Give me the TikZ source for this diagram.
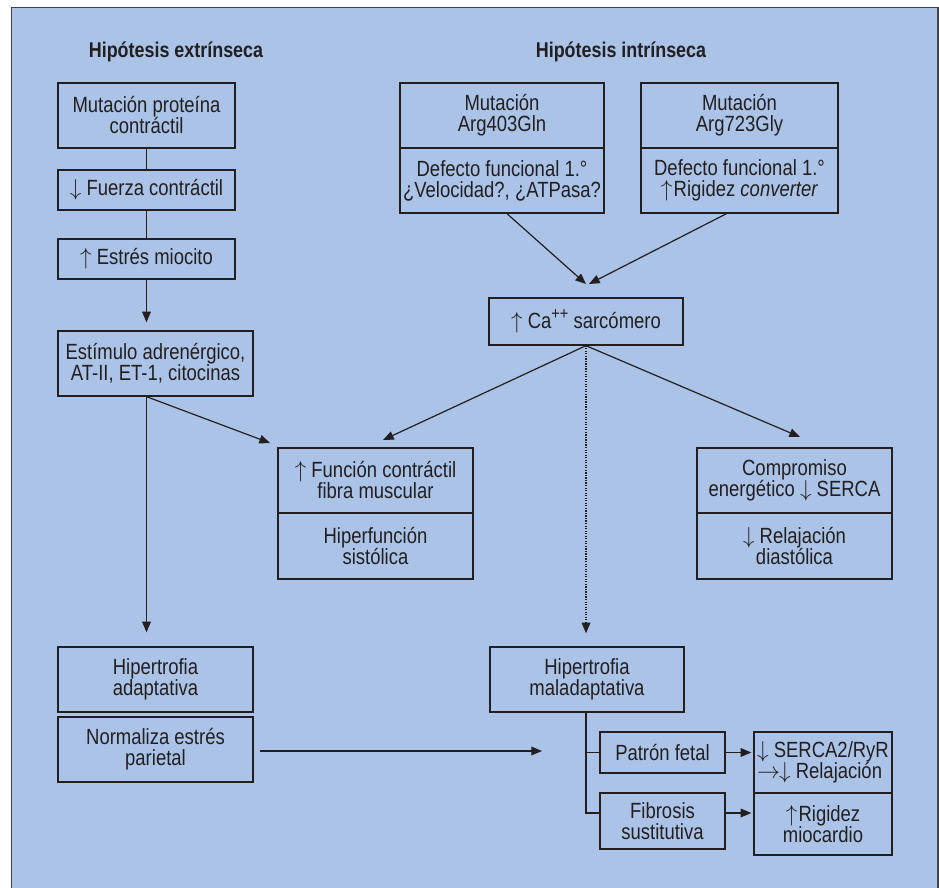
\documentclass[tikz,border=0pt]{standalone}
\usepackage{fontspec}
\setmainfont{Liberation Sans}[FakeStretch=0.84]
\usetikzlibrary{arrows.meta,calc}
\definecolor{bg}{HTML}{AAC3E7}
\definecolor{ink}{HTML}{231F20}
\newcommand\dn{$\downarrow$}
\newcommand\up{$\uparrow$}
\newcommand\mybox[6]{\node[box, minimum width={(#4-#2)*0.75pt}, minimum height={(#5-#3)*0.75pt}] (#1) at ({(#2+#4)/2},{(#3+#5)/2}) {#6};}
\begin{document}
\begin{tikzpicture}[x=0.75pt,y=-0.75pt,
  box/.style={draw=ink, line width=1pt, align=center, inner sep=0pt, text=ink, font=\fontsize{16.5}{15.75}\selectfont},
  ttl/.style={text=ink, inner sep=0pt, font=\fontsize{16}{16}\selectfont\bfseries},
  ln/.style={draw=ink, line width=0.9pt},
  arr/.style={ln, -{Triangle[length=8pt,width=6.5pt]}}]
\useasboundingbox (0,0) rectangle (939,888);
\fill[white] (0,0) rectangle (939,888);
\draw[fill=bg, draw=ink!85, line width=1.3pt] (11.5,7.5) rectangle (938.3,900);
% titles
\node[ttl] (t1) at (176,52) {Hipótesis extrínseca};
\node[ttl] (t2) at (621,52) {Hipótesis intrínseca};
% left column
\mybox{A}{58}{83}{235}{148}{Mutación proteína\\contráctil}
\mybox{B}{58}{170}{235}{210}{\dn\ Fuerza contráctil}
\mybox{C}{58}{239}{235}{279}{\up\ Estrés miocito}
\mybox{D}{58}{331}{253}{396}{Estímulo adrenérgico,\\AT-II, ET-1, citocinas}
\mybox{E}{58}{647}{253}{712}{Hipertrofia\\adaptativa}
\mybox{F}{58}{717}{253}{782}{Normaliza estrés\\parietal}
% right top
\mybox{I}{400}{83}{604}{148}{Mutación\\Arg403Gln}
\mybox{J}{400}{148}{604}{213}{Defecto funcional 1.°\\¿Velocidad?, ¿ATPasa?}
\mybox{K}{641}{83}{838}{148}{Mutación\\Arg723Gly}
\mybox{L}{641}{148}{838}{213}{Defecto funcional 1.°\\\up\kern1pt Rigidez \textit{converter}}
\mybox{M}{489}{298}{683}{345}{\up\ Ca\raisebox{0.42em}{\fontsize{13}{13}\selectfont ++} sarcómero}
% middle
\mybox{G}{278}{448}{473}{513}{\up\ Función contráctil\\fibra muscular}
\mybox{H}{278}{513}{473}{579}{Hiperfunción\\sistólica}
\mybox{N}{697}{448}{892}{513}{Compromiso\\energético \dn\ SERCA}
\mybox{O}{697}{513}{892}{579}{\dn\ Relajación\\diastólica}
% bottom right
\mybox{P}{490}{647}{684}{712}{Hipertrofia\\maladaptativa}
\mybox{Q}{600}{732}{725}{773}{Patrón fetal}
\mybox{R}{600}{793}{725}{849}{Fibrosis\\sustitutiva}
\node[box, align=left, minimum width={138*0.75pt}, minimum height={61*0.75pt}] (S) at (823,762.5) {\dn\ SERCA2/RyR\\$\rightarrow$\kern-0.05em\dn\ Relajación};
\mybox{T}{754}{793}{892}{855}{\up\kern1pt Rigidez\\miocardio}
% coordinates
\coordinate (d0) at (C.south |- D.south);
\coordinate (tDG) at (270,443);
\coordinate (tMJ) at (586,284);
\coordinate (tML) at (589,284);
\coordinate (tMG) at (383,440);
\coordinate (tMN) at (800,437);
\coordinate (rb) at (586,813);
\coordinate (fend) at (542,751);
% connectors left
\draw[ln] (A) -- (B);
\draw[ln] (B) -- (C);
\draw[arr, shorten >=6pt] (C.south) -- (C.south |- D.north);
\draw[arr, shorten >=10.5pt] (d0) -- (d0 |- E.north);
\draw[arr] (d0) -- (tDG);
% connectors right
\draw[arr] ($(J.south)+(5,0)$) -- (tMJ);
\draw[arr] ($(L.south)+(-13,0)$) -- (tML);
\draw[arr] (M.south) -- (tMG);
\draw[arr] (M.south) -- (tMN);
\draw[arr, densely dotted, shorten >=9.75pt] (M.south) -- (M.south |- P.north);
% bottom right
\draw[ln] (P.south -| rb) -- (rb) -- (rb -| R.west);
\draw[ln] (Q.west -| rb) -- (Q.west);
\draw[arr, shorten >=1.5pt] (Q.east) -- (Q.east -| S.west);
\draw[arr, shorten >=1.5pt] (rb -| R.east) -- (rb -| T.west);
\draw[arr, shorten <=5pt] (F.east |- fend) -- (fend);
\end{tikzpicture}
\end{document}
